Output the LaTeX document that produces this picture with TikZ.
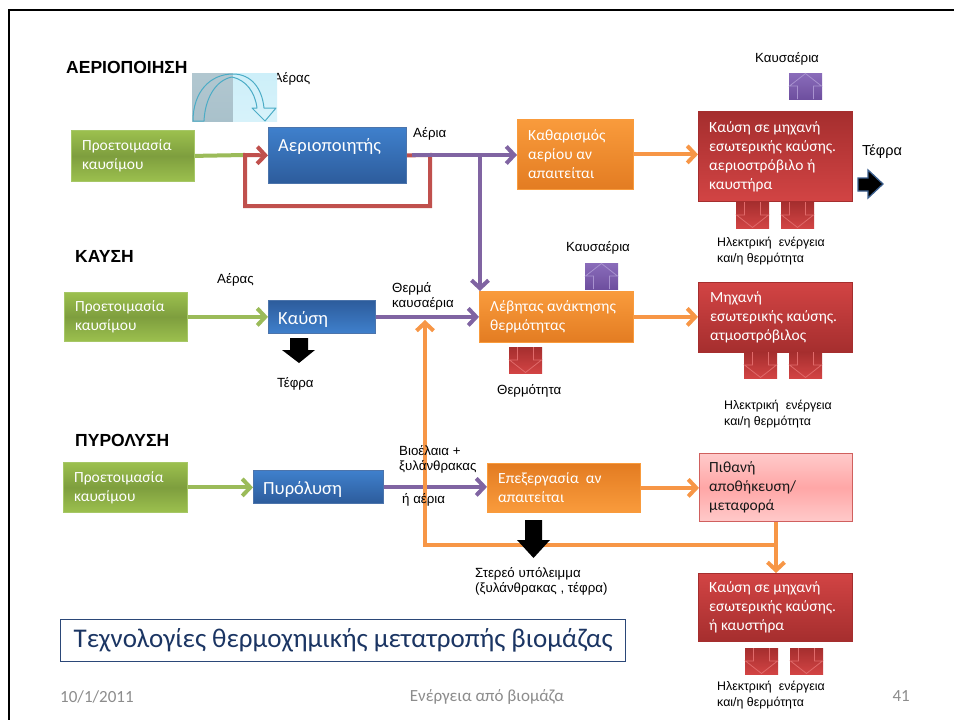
\documentclass[tikz,border=0pt]{standalone}
\usepackage{fontspec}
\setmainfont{Carlito}
\newfontfamily\arialfam{Liberation Sans}
\usetikzlibrary{arrows.meta,backgrounds}

% box fills
\definecolor{GrnLt}{HTML}{9CC04E}
\definecolor{GrnDk}{HTML}{7E9E3E}
\definecolor{GrnEdge}{HTML}{A6C766}
\definecolor{BluLt}{HTML}{3F80CC}
\definecolor{BluDk}{HTML}{2D5C9C}
\definecolor{OrgLt}{HTML}{F99B3C}
\definecolor{OrgDk}{HTML}{E37C22}
\definecolor{RedLt}{HTML}{D24444}
\definecolor{RedDk}{HTML}{A52E2E}
\definecolor{PnkLt}{HTML}{FFCACA}
\definecolor{PnkDk}{HTML}{FFA6A6}
\definecolor{PnkEdge}{HTML}{D0605E}
% connector colours
\definecolor{LnPurple}{HTML}{8064A2}
\definecolor{LnRed}{HTML}{C0504D}
\definecolor{LnGreen}{HTML}{9BBB59}
\definecolor{LnOrange}{HTML}{F79646}
% block arrows
\definecolor{PrpLt}{HTML}{8A6CBA}
\definecolor{PrpDk}{HTML}{6E4F9F}
\definecolor{PrpEdge}{HTML}{A892CF}
\definecolor{RedEdge}{HTML}{E06A6A}
% curved arrow icon
\definecolor{IcoDark}{HTML}{A9C1CB}
\definecolor{IcoLight}{HTML}{CDEFF9}
\definecolor{IcoLine}{HTML}{4BACC6}
% misc
\definecolor{TefraEdge}{HTML}{3B5F8E}
\definecolor{TitleEdge}{HTML}{2B4778}
\definecolor{TitleInk}{HTML}{1B3563}
\definecolor{FootGray}{HTML}{8C8C8C}

\newcommand\txtBox{\fontsize{15.5}{19}\selectfont}
\newcommand\txtBig{\fontsize{18.5}{22}\selectfont}
\newcommand\txtLbl{\arialfam\fontsize{13.3}{15.5}\selectfont}
\newcommand\txtSmall{\arialfam\fontsize{12.4}{15.5}\selectfont}
\newcommand\txtTef{\arialfam\fontsize{14.5}{17}\selectfont}
\newcommand\txtHead{\arialfam\bfseries\fontsize{17.5}{20}\selectfont}
\newcommand\txtTitle{\fontsize{27}{30}\selectfont}
\newcommand\txtFoot{\fontsize{17}{20}\selectfont}

\tikzset{
  flowbox/.style={anchor=north west, inner sep=0pt, line width=0.8pt},
  greenfill/.style={flowbox, draw=GrnEdge, top color=GrnLt, bottom color=GrnLt, middle color=GrnDk},
  bluefill/.style={flowbox, draw=BluDk!85!white, top color=BluLt, bottom color=BluDk},
  bluefillrev/.style={flowbox, draw=BluDk!85!white, top color=BluDk, bottom color=BluLt},
  orangefill/.style={flowbox, draw=OrgLt, top color=OrgLt, bottom color=OrgDk},
  orangefillrev/.style={flowbox, draw=OrgLt, top color=OrgDk, bottom color=OrgLt},
  redfill/.style={flowbox, draw=RedDk, top color=RedDk, bottom color=RedLt},
  redfillrev/.style={flowbox, draw=RedDk, top color=RedLt, bottom color=RedDk},
  pinkfill/.style={flowbox, draw=PnkEdge, line width=1pt, top color=PnkLt, bottom color=PnkLt, middle color=PnkDk},
  boxtext/.style={anchor=west, inner sep=0pt, align=left, text=white, font=\txtBox},
  lbl/.style={anchor=base west, inner sep=0pt, font=\txtLbl},
  lblblock/.style={anchor=north west, inner sep=0pt, align=left, font=\txtLbl},
  energy/.style={anchor=north west, inner sep=0pt, align=left, font=\txtSmall},
  heading/.style={anchor=base west, inner sep=0pt, font=\txtHead},
  pipe/.style={line width=4pt},
  conn/.style={pipe, -{Straight Barb[length=8pt,width=17pt]}},
  pics/downblock/.style={code={
    \fill[top color=RedDk, bottom color=RedLt] (0,0) rectangle (33,26);
    \draw[RedEdge, line width=0.8pt] (8.5,0) -- (8.5,13) -- (0.5,13) -- (16.5,25.5) -- (32.5,13) -- (24.5,13) -- (24.5,0);
  }},
  pics/upblock/.style={code={
    \fill[top color=PrpLt, bottom color=PrpDk] (0,0) rectangle (33,26);
    \draw[PrpEdge, line width=0.8pt] (8.5,26) -- (8.5,13) -- (0.5,13) -- (16.5,0.5) -- (32.5,13) -- (24.5,13) -- (24.5,26);
  }},
}

\begin{document}
\begin{tikzpicture}[x=1pt,y=-1pt]
\useasboundingbox (0,0) rectangle (954,720);

% slide frame
\draw[line width=2.5pt] (9,720) -- (9,10) -- (954,10);

% ---------- section headings
\node[heading] (hGas) at (66,73) {ΑΕΡΙΟΠΟΙΗΣΗ};
\node[heading] (hBurn) at (75,262) {ΚΑΥΣΗ};
\node[heading] (hPyr) at (75,446) {ΠΥΡΟΛΥΣΗ};

% ---------- gasification row
\node[lbl] (lAir1) at (273.5,82) {Αέρας};
% air inlet icon (curved arrow over a tinted panel)
\fill[top color=IcoDark!90!white, bottom color=IcoDark] (192,73) rectangle (233,121);
\fill[top color=IcoLight, bottom color=IcoLight!80!white] (233,73) rectangle (277,121);
\draw[IcoLine, line width=1pt, line join=round]
  (204,121) -- (193,121) .. controls (193,92) and (210,74) .. (233,74)
  .. controls (251,74) and (262,88) .. (264,108) -- (276,108) -- (265,121) -- (252,108) -- (257,108)
  .. controls (255,92) and (246,80) .. (232,77)
  .. controls (216,80) and (205,98) .. (204,121);

\node[greenfill, minimum width=123pt, minimum height=51pt] (g1) at (71,130) {};
\node[boxtext] (g1t) at ([xshift=11pt]g1.west) {Προετοιμασία\\καυσίμου};

\node[bluefill, minimum width=138pt, minimum height=56pt] (a1) at (268,127) {};
\node[boxtext, font=\txtBig, anchor=base west] (a1t) at (278,151) {Αεριοποιητής};

\node[orangefill, minimum width=116pt, minimum height=70pt] (k1) at (517,119) {};
\node[boxtext] (k1t) at ([xshift=11pt]k1.west) {Καθαρισμός\\αερίου αν\\απαιτείται};

\node[redfill, minimum width=154pt, minimum height=90pt] (r1) at (698,111) {};
\node[boxtext] (r1t) at ([xshift=11pt]r1.west) {Καύση σε μηχανή\\εσωτερικής καύσης.\\αεριοστρόβιλο ή\\καυστήρα};

\node[lbl] (lGas) at (413,137) {Αέρια};
\node[lbl] (lFlue1) at (755,62) {Καυσαέρια};
\pic at (789,73) {upblock};
\node[lbl, font=\txtTef] (lAsh1) at (862,155) {Τέφρα};
\filldraw[fill=black, draw=TefraEdge, line width=1.3pt, line join=miter]
  (858,178) -- (868,178) -- (868,170) -- (883,184) -- (868,198) -- (868,191) -- (858,191) -- cycle;
\pic at (736,202) {downblock};
\pic at (781,202) {downblock};
\node[energy] (lEl1) at (717,237) {Ηλεκτρική\ \ ενέργεια\\και/η θερμότητα};

% ---------- combustion row
\node[lbl] (lAir2) at (217,283) {Αέρας};
\node[greenfill, minimum width=123pt, minimum height=49pt] (g2) at (64,292) {};
\node[boxtext] (g2t) at ([xshift=11pt]g2.west) {Προετοιμασία\\καυσίμου};

\node[bluefillrev, minimum width=107pt, minimum height=33pt] (a2) at (268,300) {};
\node[boxtext, font=\txtBig, anchor=base west] (a2t) at (278,324) {Καύση};

\fill (290,338) -- (308,338) -- (308,350) -- (315,350) -- (299,363) -- (282,350) -- (290,350) -- cycle;
\node[lbl] (lAsh2) at (277,387) {Τέφρα};

\node[lblblock] (lHot) at (392,282) {Θερμά\\καυσαέρια};

\node[orangefill, minimum width=154pt, minimum height=51pt] (lb) at (479,291) {};
\node[boxtext] (lbt) at ([xshift=11pt]lb.west) {Λέβητας ανάκτησης\\θερμότητας};
\node[lbl] (lFlue2) at (566,251) {Καυσαέρια};
\pic at (585,263) {upblock};
\pic at (509,347) {downblock};
\node[lbl] (lHeat) at (497,394) {Θερμότητα};

\node[redfillrev, minimum width=154pt, minimum height=70pt] (r2) at (698,282) {};
\node[boxtext] (r2t) at ([xshift=12pt]r2.west) {Μηχανή\\εσωτερικής καύσης.\\ατμοστρόβιλος};
\pic at (744,352) {downblock};
\pic at (789,352) {downblock};
\node[energy] (lEl2) at (724,400) {Ηλεκτρική\ \ ενέργεια\\και/η θερμότητα};

% ---------- pyrolysis row
\node[greenfill, minimum width=124pt, minimum height=50pt] (g3) at (63,462) {};
\node[boxtext] (g3t) at ([xshift=11pt]g3.west) {Προετοιμασία\\καυσίμου};

\node[bluefill, minimum width=130pt, minimum height=33pt] (a3) at (253,470) {};
\node[boxtext, font=\txtBig, anchor=base west] (a3t) at (263,494) {Πυρόλυση};

\node[lblblock] (lBio) at (399,445) {Βιοέλαια +\\ξυλάνθρακας};
\node[lbl] (lOr) at (402,503) {ή αέρια};

\node[orangefillrev, minimum width=153pt, minimum height=49pt] (ep) at (487,463) {};
\node[boxtext] (ept) at ([xshift=11pt]ep.west) {Επεξεργασία\ \ αν\\απαιτείται};

\node[pinkfill, minimum width=153pt, minimum height=68pt] (pk) at (699,453) {};
\node[boxtext, text=black!90] (pkt) at ([xshift=10pt]pk.west) {Πιθανή\\αποθήκευση/\\μεταφορά};

\node[redfillrev, minimum width=154pt, minimum height=68pt] (r3) at (698,573) {};
\node[boxtext] (r3t) at ([xshift=11pt]r3.west) {Καύση σε μηχανή\\εσωτερικής καύσης.\\ή καυστήρα};
\pic at (745,648) {downblock};
\pic at (790,648) {downblock};
\node[energy] (lEl3) at (717,681) {Ηλεκτρική\ \ ενέργεια\\και/η θερμότητα};

\node[lblblock] (lSol) at (475,567) {Στερεό υπόλειμμα\\(ξυλάνθρακας , τέφρα)};

% ---------- connectors (kept behind boxes and labels)
\begin{pgfonlayer}{background}
\fill[white] (0,0) rectangle (954,720);
\coordinate (rA) at (430,155);
\coordinate (rB) at (430,206);
\coordinate (rC) at (245,206);
\coordinate (rD) at (245,155);
\draw[pipe, LnGreen] (g1.east) -- (rD);
\draw[conn, LnRed] (a1.east) -- (rA) -- (rB) -- (rC) -- (rD) -- (a1.west);

\coordinate (pS) at (412,155);
\coordinate (pJ) at (480,155);
\draw[conn, LnPurple] (pS) -- (k1.west |- pS);
\draw[conn, LnPurple] (pJ) -- (pJ |- lb.north);
\draw[conn, LnOrange] (k1.east) -- (k1.east -| r1.west);

\draw[conn, LnGreen] (g2.east) -- (g2.east -| a2.west);
\draw[conn, LnPurple] (a2.east) -- (a2.east -| lb.west);
\draw[conn, LnOrange] (lb.east) -- (lb.east -| r2.west);

\draw[conn, LnGreen] (g3.east) -- (g3.east -| a3.west);
\draw[conn, LnPurple] (a3.east) -- (a3.east -| ep.west);
\draw[conn, LnOrange] (ep.east) -- (ep.east -| pk.west);

\coordinate (oR) at (775,545);
\coordinate (oL) at (425,545);
\coordinate (oT) at (425,320);
\draw[conn, LnOrange] (pk.south) -- (pk.south |- r3.north);
\draw[conn, LnOrange] (oR) -- (oL) -- (oT);
\end{pgfonlayer}

% solid residue outlet
\fill (525,520) -- (542,520) -- (542,540) -- (550,540) -- (533.5,558) -- (517,540) -- (525,540) -- cycle;

% ---------- title and footer
\node[draw=TitleEdge, line width=1.3pt, anchor=north west, minimum width=565pt, minimum height=42pt,
      inner sep=0pt, font=\txtTitle, text=TitleInk] (ttl) at (60,619) {Τεχνολογίες θερμοχημικής μετατροπής βιομάζας};
\node[anchor=base west, inner sep=0pt, font=\txtFoot, text=FootGray] (fDate) at (60,702) {10/1/2011};
\node[anchor=base, inner sep=0pt, font=\txtFoot, text=FootGray] (fTitle) at (487,701) {Ενέργεια από βιομάζα};
\node[anchor=base east, inner sep=0pt, font=\txtFoot, text=FootGray] (fPage) at (910,701) {41};
\end{tikzpicture}
\end{document}
